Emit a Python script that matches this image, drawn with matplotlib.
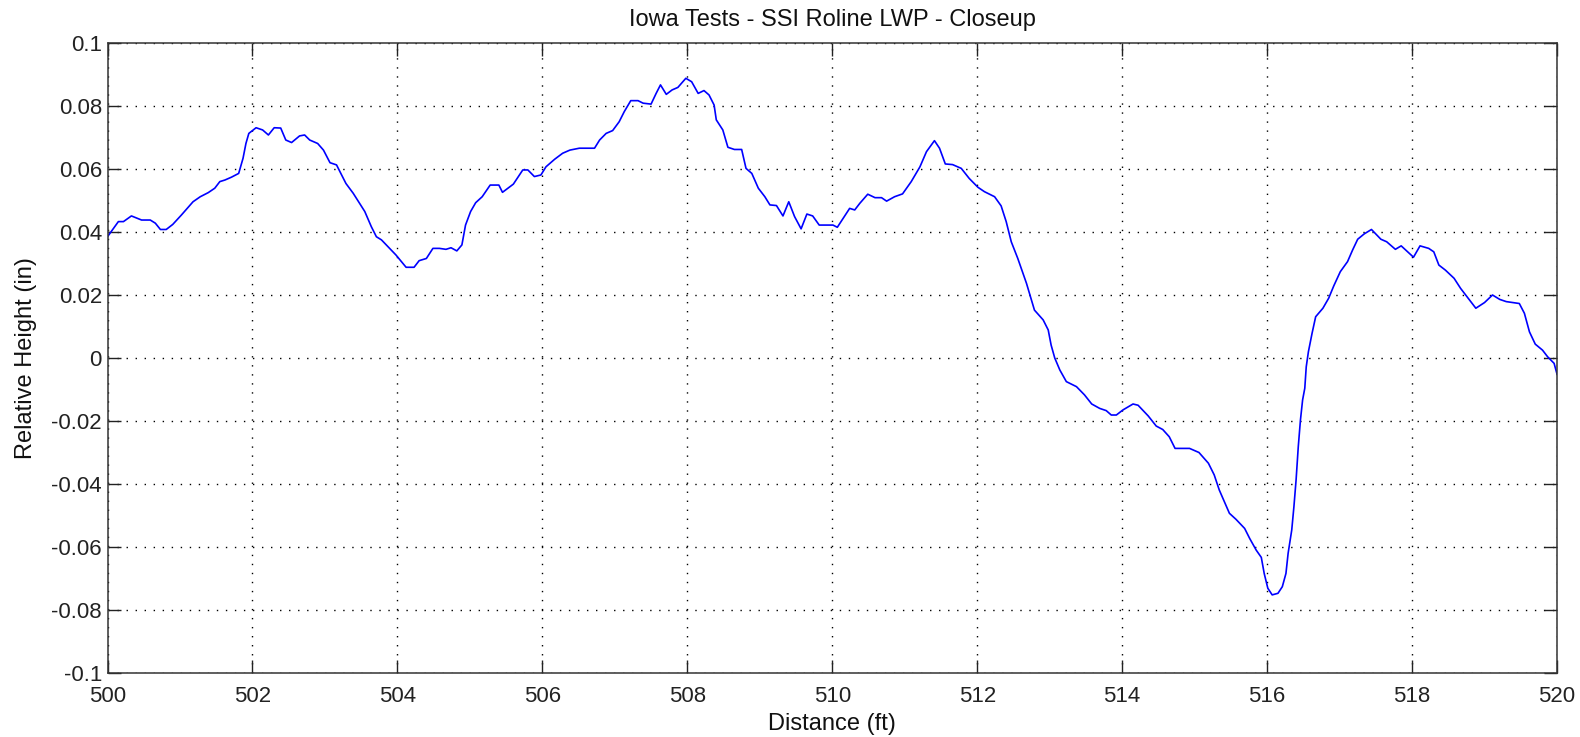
import matplotlib
matplotlib.use("Agg")
import matplotlib.pyplot as plt

title = "Iowa Tests - SSI Roline LWP - Closeup"
xlabel = "Distance (ft)"
ylabel = "Relative Height (in)"

distance = [
    500.00, 500.15, 500.22, 500.33, 500.47, 500.59, 500.66, 500.73, 500.81, 500.90,
    501.02, 501.18, 501.28, 501.39, 501.48, 501.55, 501.62, 501.71, 501.81, 501.87,
    501.91, 501.95, 502.05, 502.14, 502.22, 502.30, 502.39, 502.46, 502.54, 502.65,
    502.72, 502.79, 502.90, 502.98, 503.07, 503.16, 503.29, 503.39, 503.55, 503.64,
    503.71, 503.78, 503.98, 504.12, 504.23, 504.30, 504.40, 504.49, 504.58, 504.67,
    504.74, 504.82, 504.89, 504.94, 505.01, 505.08, 505.17, 505.28, 505.40, 505.45,
    505.60, 505.73, 505.80, 505.89, 505.98, 506.05, 506.17, 506.28, 506.38, 506.51,
    506.72, 506.79, 506.88, 506.97, 507.06, 507.13, 507.22, 507.32, 507.39, 507.50,
    507.57, 507.63, 507.71, 507.79, 507.87, 507.98, 508.06, 508.15, 508.23, 508.30,
    508.37, 508.40, 508.49, 508.56, 508.65, 508.75, 508.81, 508.89, 508.98, 509.07,
    509.14, 509.23, 509.32, 509.40, 509.48, 509.57, 509.65, 509.73, 509.82, 510.01,
    510.07, 510.15, 510.24, 510.31, 510.38, 510.49, 510.59, 510.68, 510.75, 510.86,
    510.97, 511.09, 511.21, 511.30, 511.41, 511.48, 511.56, 511.66, 511.78, 511.89,
    512.01, 512.10, 512.24, 512.33, 512.40, 512.47, 512.56, 512.68, 512.79, 512.91,
    512.98, 513.02, 513.07, 513.14, 513.23, 513.37, 513.48, 513.58, 513.69, 513.78,
    513.85, 513.92, 514.01, 514.15, 514.22, 514.36, 514.47, 514.56, 514.65, 514.73,
    514.93, 515.06, 515.19, 515.27, 515.34, 515.48, 515.57, 515.69, 515.76, 515.85,
    515.92, 515.96, 516.01, 516.07, 516.15, 516.21, 516.26, 516.29, 516.34, 516.37,
    516.40, 516.43, 516.46, 516.49, 516.52, 516.54, 516.57, 516.62, 516.67, 516.77,
    516.85, 516.92, 517.01, 517.11, 517.18, 517.25, 517.34, 517.44, 517.57, 517.65,
    517.77, 517.85, 517.94, 518.02, 518.11, 518.23, 518.30, 518.37, 518.46, 518.58,
    518.67, 518.74, 518.88, 519.00, 519.11, 519.21, 519.30, 519.48, 519.55, 519.62,
    519.70, 519.80, 519.87, 519.96, 520.00,
]

height = [
    0.0385, 0.0433, 0.0433, 0.0451, 0.0438, 0.0438, 0.0428, 0.0408, 0.0408, 0.0424,
    0.0454, 0.0496, 0.0512, 0.0525, 0.0539, 0.0560, 0.0565, 0.0574, 0.0586, 0.0634,
    0.0681, 0.0713, 0.0731, 0.0724, 0.0708, 0.0731, 0.0730, 0.0692, 0.0684, 0.0705,
    0.0708, 0.0692, 0.0681, 0.0660, 0.0620, 0.0613, 0.0554, 0.0523, 0.0465, 0.0417,
    0.0385, 0.0375, 0.0327, 0.0288, 0.0288, 0.0309, 0.0316, 0.0348, 0.0348, 0.0345,
    0.0350, 0.0340, 0.0359, 0.0422, 0.0465, 0.0493, 0.0512, 0.0549, 0.0549, 0.0526,
    0.0552, 0.0597, 0.0597, 0.0576, 0.0581, 0.0607, 0.0631, 0.0650, 0.0660, 0.0666,
    0.0666, 0.0692, 0.0713, 0.0722, 0.0750, 0.0782, 0.0817, 0.0817, 0.0809, 0.0806,
    0.0840, 0.0867, 0.0837, 0.0851, 0.0859, 0.0888, 0.0877, 0.0840, 0.0849, 0.0835,
    0.0803, 0.0756, 0.0724, 0.0669, 0.0662, 0.0662, 0.0602, 0.0586, 0.0539, 0.0512,
    0.0486, 0.0484, 0.0451, 0.0496, 0.0449, 0.0410, 0.0457, 0.0451, 0.0422, 0.0422,
    0.0415, 0.0443, 0.0475, 0.0470, 0.0491, 0.0520, 0.0509, 0.0509, 0.0498, 0.0512,
    0.0521, 0.0560, 0.0607, 0.0655, 0.0690, 0.0666, 0.0616, 0.0614, 0.0602, 0.0570,
    0.0542, 0.0528, 0.0512, 0.0483, 0.0433, 0.0369, 0.0316, 0.0237, 0.0152, 0.0121,
    0.0089, 0.0041, 0.0000, -0.0038, -0.0075, -0.0091, -0.0117, -0.0146, -0.0160, -0.0167,
    -0.0181, -0.0181, -0.0165, -0.0146, -0.0150, -0.0184, -0.0216, -0.0227, -0.0250, -0.0287,
    -0.0287, -0.0300, -0.0334, -0.0371, -0.0419, -0.0493, -0.0512, -0.0541, -0.0573, -0.0610,
    -0.0633, -0.0684, -0.0731, -0.0752, -0.0747, -0.0726, -0.0684, -0.0620, -0.0546, -0.0472,
    -0.0387, -0.0282, -0.0197, -0.0133, -0.0096, -0.0028, 0.0020, 0.0078, 0.0131, 0.0158,
    0.0190, 0.0229, 0.0274, 0.0306, 0.0343, 0.0377, 0.0394, 0.0408, 0.0377, 0.0369,
    0.0345, 0.0356, 0.0337, 0.0320, 0.0356, 0.0348, 0.0337, 0.0295, 0.0279, 0.0253,
    0.0221, 0.0200, 0.0158, 0.0176, 0.0200, 0.0186, 0.0179, 0.0173, 0.0142, 0.0083,
    0.0044, 0.0025, 0.0004, -0.0017, -0.0051,
]

xticks = [500, 502, 504, 506, 508, 510, 512, 514, 516, 518, 520]
xtick_labels = ["500", "502", "504", "506", "508", "510", "512", "514", "516", "518", "520"]
yticks = [0.1, 0.08, 0.06, 0.04, 0.02, 0.0, -0.02, -0.04, -0.06, -0.08, -0.1]
ytick_labels = ["0.1", "0.08", "0.06", "0.04", "0.02", "0", "-0.02", "-0.04", "-0.06", "-0.08", "-0.1"]

plt.rcParams['font.family'] = ['Liberation Sans', 'DejaVu Sans']

fig = plt.figure(figsize=(15.8, 7.37), dpi=100)
ax = fig.add_axes([107.5 / 1580, 1 - 673 / 737, (1557 - 107.5) / 1580, (673 - 43) / 737])

ax.plot(distance, height, color=(0, 0, 1), linewidth=1.2)

ax.set_xlim(500, 520)
ax.set_ylim(-0.1, 0.1)
ax.set_xticks(xticks)
ax.set_xticklabels(xtick_labels)
ax.set_yticks(yticks)
ax.set_yticklabels(ytick_labels)

ax.grid(True, color='black', linestyle=(0, (1, 5.5)), linewidth=1.0)
ax.tick_params(direction='in', length=9.5, width=1.0, top=True, right=True,
               labelsize=16, pad=4, colors='#222222')
ax.tick_params(axis='x', pad=9)
for s in ax.spines.values():
    s.set_linewidth(1.1)
    s.set_color('#333333')

ax.set_title(title, fontsize=17, pad=12, color='#111111')
ax.set_xlabel(xlabel, fontsize=17, labelpad=5, color='#111111')
ax.set_ylabel(ylabel, fontsize=17, labelpad=10, color='#111111')

fig.savefig("out.png", dpi=100)
